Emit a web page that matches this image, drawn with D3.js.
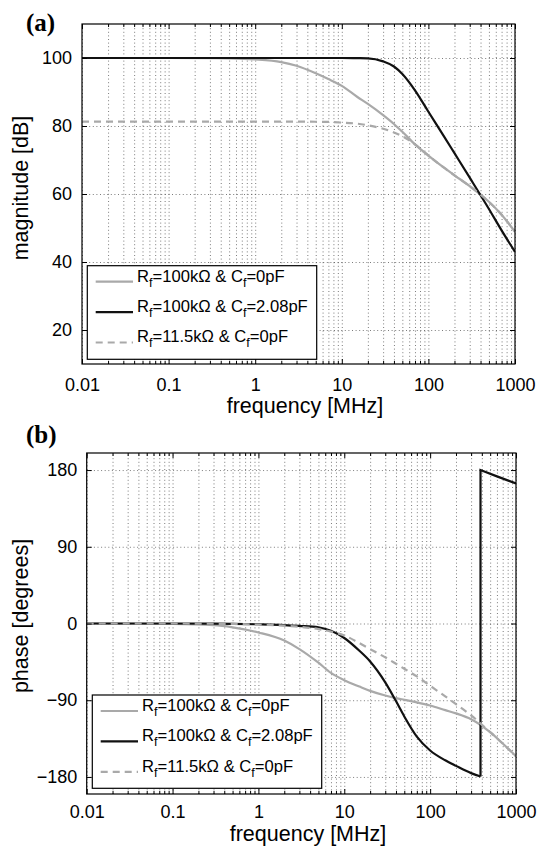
<!DOCTYPE html>
<html>
<head>
<meta charset="utf-8">
<script src="https://cdn.jsdelivr.net/npm/d3@7"></script>
<style>
  body { margin: 0; background: #fff; }
  svg { display: block; }
</style>
</head>
<body>
<div id="chart"></div>
<script>
// frequency samples in MHz (shared by most curves)
const freqs = [0.01, 0.1, 0.3, 0.5, 1, 2, 3, 5, 7, 10, 15, 20, 30, 40, 50, 70, 100, 150, 200, 300, 500, 700, 1000];

// (a) magnitude in dB
const magRf100k = [100, 100, 99.95, 99.9, 99.6, 98.8, 97.7, 95.5, 93.8, 91.8, 88.6, 86.5, 83.2, 80.6, 78.3, 74.6, 71.3, 67.8, 65.5, 62.3, 57.7, 53.9, 48.9];
const magRf100kCf = [100, 100, 100, 100, 100, 100, 100, 100, 100, 100, 99.95, 99.9, 99.0, 97.5, 95.3, 90.5, 84.2, 77.1, 72, 64.8, 55.6, 49.3, 43];
const magRf11k = [81.3, 81.3, 81.3, 81.3, 81.3, 81.3, 81.3, 81.25, 81.2, 81.0, 80.7, 80.2, 79.2, 78.1, 77.0, 74.6, 71.3, 67.8, 65.5, 62.3, 57.7, 53.9, 48.9];

// (b) phase in degrees
const phaseRf100k = [0, -0.6, -2, -4.5, -10.5, -20, -30, -46, -58, -66.5, -74, -79, -84.5, -87.5, -89.5, -92.5, -96.2, -101.6, -105.4, -112.2, -127.5, -140.8, -155.7];
const phaseRf11k = [0, 0, -0.3, -0.5, -1.2, -2.5, -3.8, -6.5, -9.5, -14, -23, -30, -39.7, -47.2, -53.1, -62, -73, -85.5, -94.6, -107.8, -127.5, -140.8, -155.7];
// the Cf=2.08pF phase wraps from -180 to +180 near 386 MHz
const freqsCfLow = [0.01, 0.1, 0.3, 0.5, 1, 2, 3, 5, 7, 10, 15, 20, 30, 40, 50, 70, 100, 150, 200, 300, 386];
const phaseRf100kCfLow = [0, 0, -0.2, -0.4, -0.9, -1.8, -2.8, -4.5, -8.5, -17, -32, -44.5, -69, -91, -109, -132.7, -149, -160.5, -167, -175.5, -179.5];
const freqsCfHigh = [386, 600, 1000];
const phaseRf100kCfHigh = [180, 172.6, 164.3];

// axes
const xTicks = [0.01, 0.1, 1, 10, 100, 1000];
const xTickLabels = ["0.01", "0.1", "1", "10", "100", "1000"];
const magTicks = [20, 40, 60, 80, 100];
const magTickLabels = ["20", "40", "60", "80", "100"];
const phaseTicks = [-180, -90, 0, 90, 180];
const phaseTickLabels = ["\u2212180", "\u221290", "0", "90", "180"];

// legend
const legendRf = ["100k\u03A9", "100k\u03A9", "11.5k\u03A9"];
const legendCf = ["0pF", "2.08pF", "0pF"];

const W = 541, H = 849;
const font = "'Liberation Sans', Arial, Helvetica, sans-serif";
const seriesStyle = [
    { color: "#a9a9a9", dash: null },
    { color: "#111111", dash: null },
    { color: "#a9a9a9", dash: "7,5" }
];

// minor tick positions 2..9 per decade
const xMinor = [];
for (let d = 0.01; d < 1000; d *= 10) {
    for (let k = 2; k <= 9; k++) xMinor.push(+(d * k).toPrecision(3));
}
const xAllGrid = xTicks.concat(xMinor);

const svg = d3.select("#chart").append("svg")
    .attr("width", W)
    .attr("height", H)
    .style("font-family", font);

function styleAxis(sel, size) {
    sel.select(".domain").remove();
    sel.selectAll("line").attr("stroke", "#000").attr("stroke-width", 1);
    sel.selectAll("text").attr("fill", "#000").style("font-size", size + "px").style("font-family", font);
}

function drawPanel(cfg) {
    const g = svg.append("g");
    const x = d3.scaleLog().domain([0.01, 1000]).range([cfg.left, cfg.right]);
    const y = d3.scaleLinear().domain(cfg.yDomain).range([cfg.bottom, cfg.top]);
    const w = cfg.right - cfg.left, h = cfg.bottom - cfg.top;

    // dotted grid
    const gridStyle = s => {
        s.select(".domain").remove();
        s.selectAll("line")
            .attr("stroke", "#444")
            .attr("stroke-width", 0.7)
            .attr("stroke-dasharray", "1,2.6");
    };
    g.append("g")
        .attr("transform", `translate(0,${cfg.bottom})`)
        .call(d3.axisBottom(x).tickValues(xAllGrid).tickSize(-h).tickFormat(""))
        .call(gridStyle);
    g.append("g")
        .attr("transform", `translate(${cfg.left},0)`)
        .call(d3.axisLeft(y).tickValues(cfg.yTicks).tickSize(-w).tickFormat(""))
        .call(gridStyle);

    // curves
    const clipId = "clip-" + cfg.name;
    g.append("clipPath").attr("id", clipId)
        .append("rect").attr("x", cfg.left).attr("y", cfg.top).attr("width", w).attr("height", h);

    const smooth = d3.line().x(d => x(d[0])).y(d => y(d[1])).curve(d3.curveMonotoneX);
    const straight = d3.line().x(d => x(d[0])).y(d => y(d[1]));
    const curves = g.append("g").attr("clip-path", `url(#${clipId})`);
    cfg.series.forEach((s, i) => {
        const st = seriesStyle[i];
        s.forEach(part => {
            curves.append("path")
                .attr("d", (part.linear ? straight : smooth)(part.pts))
                .attr("fill", "none")
                .attr("stroke", st.color)
                .attr("stroke-width", 2.2)
                .attr("stroke-dasharray", st.dash)
                .attr("stroke-linejoin", "miter");
        });
    });

    // inward ticks on all four sides
    g.append("g").attr("transform", `translate(0,${cfg.bottom})`)
        .call(d3.axisBottom(x).tickValues(xTicks).tickSizeInner(-5).tickSizeOuter(0)
            .tickPadding(cfg.xPad).tickFormat((d, i) => xTickLabels[i]))
        .call(s => styleAxis(s, 18));
    g.append("g").attr("transform", `translate(0,${cfg.bottom})`)
        .call(d3.axisBottom(x).tickValues(xMinor).tickSizeInner(-3).tickSizeOuter(0).tickFormat(""))
        .call(s => styleAxis(s, 18));
    g.append("g").attr("transform", `translate(0,${cfg.top})`)
        .call(d3.axisTop(x).tickValues(xTicks).tickSizeInner(-5).tickSizeOuter(0).tickFormat(""))
        .call(s => styleAxis(s, 18));
    g.append("g").attr("transform", `translate(0,${cfg.top})`)
        .call(d3.axisTop(x).tickValues(xMinor).tickSizeInner(-3).tickSizeOuter(0).tickFormat(""))
        .call(s => styleAxis(s, 18));
    g.append("g").attr("transform", `translate(${cfg.left},0)`)
        .call(d3.axisLeft(y).tickValues(cfg.yTicks).tickSizeInner(-5).tickSizeOuter(0)
            .tickPadding(cfg.yPad).tickFormat((d, i) => cfg.yTickLabels[i]))
        .call(s => styleAxis(s, 18));
    g.append("g").attr("transform", `translate(${cfg.right},0)`)
        .call(d3.axisRight(y).tickValues(cfg.yTicks).tickSizeInner(-5).tickSizeOuter(0).tickFormat(""))
        .call(s => styleAxis(s, 18));

    // frame
    g.append("rect")
        .attr("x", cfg.left).attr("y", cfg.top).attr("width", w).attr("height", h)
        .attr("fill", "none").attr("stroke", "#000").attr("stroke-width", 1.2);

    // legend
    const lg = g.append("g").attr("transform", `translate(${cfg.legend.x},${cfg.legend.y})`);
    lg.append("rect")
        .attr("width", cfg.legend.w).attr("height", cfg.legend.h)
        .attr("fill", "#fff").attr("stroke", "#000").attr("stroke-width", 1.2);
    legendRf.forEach((rf, i) => {
        const ly = 16 + i * 30.4;
        const st = seriesStyle[i];
        lg.append("line")
            .attr("x1", 8.4).attr("x2", 45.7).attr("y1", ly).attr("y2", ly)
            .attr("stroke", st.color).attr("stroke-width", 2.2)
            .attr("stroke-dasharray", st.dash);
        const t = lg.append("text").attr("x", 49.8).attr("y", ly)
            .style("font-size", "16.6px").attr("fill", "#000");
        t.append("tspan").text("R");
        t.append("tspan").attr("dy", 5).style("font-size", "12.5px").text("f");
        t.append("tspan").attr("dy", -5).text("=" + rf + " & C");
        t.append("tspan").attr("dy", 5).style("font-size", "12.5px").text("f");
        t.append("tspan").attr("dy", -5).text("=" + legendCf[i]);
    });

    // axis titles
    g.append("text")
        .attr("transform", `translate(28,${cfg.yTitleY}) rotate(-90)`)
        .attr("text-anchor", "middle")
        .style("font-size", "21.5px")
        .text(cfg.yTitle);
    g.append("text")
        .attr("x", cfg.xTitleX).attr("y", cfg.xTitleY)
        .attr("text-anchor", "middle")
        .style("font-size", "21.5px")
        .text("frequency [MHz]");

    // panel letter
    g.append("text")
        .attr("x", 26).attr("y", cfg.labelY)
        .style("font-family", "'Liberation Serif', 'Times New Roman', serif")
        .style("font-weight", "bold")
        .style("font-size", "25px")
        .text(cfg.label);
}

const zip = (fx, vals) => fx.map((f, i) => [f, vals[i]]);

drawPanel({
    name: "mag",
    left: 82, right: 515, top: 24, bottom: 364,
    yDomain: [10, 110],
    yTicks: magTicks, yTickLabels: magTickLabels,
    xPad: 14, yPad: 10,
    yTitle: "magnitude [dB]", yTitleY: 188,
    xTitleX: 305, xTitleY: 413,
    label: "(a)", labelY: 31,
    legend: { x: 87.3, y: 265.7, w: 229.4, h: 93.6 },
    series: [
        [{ pts: zip(freqs, magRf100k) }],
        [{ pts: zip(freqs, magRf100kCf) }],
        [{ pts: zip(freqs, magRf11k) }]
    ]
});

const cfLow = zip(freqsCfLow, phaseRf100kCfLow);
const cfHigh = zip(freqsCfHigh, phaseRf100kCfHigh);

drawPanel({
    name: "phase",
    left: 86.7, right: 516, top: 453, bottom: 794,
    yDomain: [-200, 200],
    yTicks: phaseTicks, yTickLabels: phaseTickLabels,
    xPad: 11.5, yPad: 9.5,
    yTitle: "phase [degrees]", yTitleY: 616,
    xTitleX: 308, xTitleY: 841,
    label: "(b)", labelY: 443,
    legend: { x: 92.3, y: 695, w: 229.4, h: 93.3 },
    series: [
        [{ pts: zip(freqs, phaseRf100k) }],
        [{ pts: cfLow }, { pts: [cfLow[cfLow.length - 1]].concat(cfHigh), linear: true }],
        [{ pts: zip(freqs, phaseRf11k) }]
    ]
});
</script>
</body>
</html>
